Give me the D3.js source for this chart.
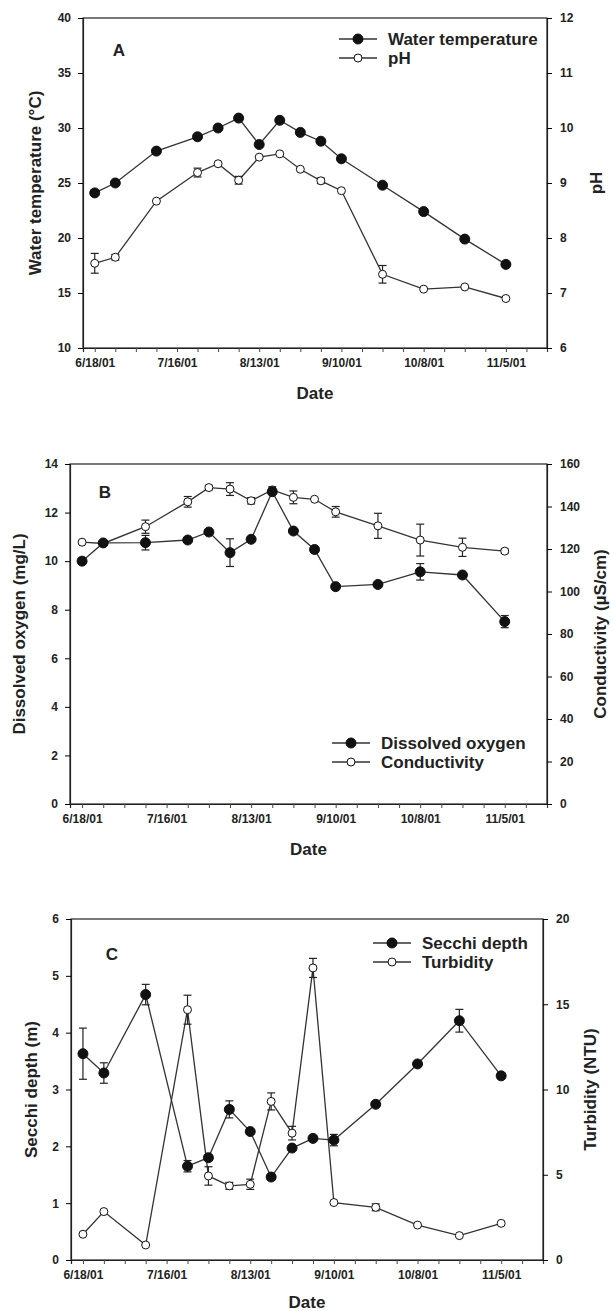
<!DOCTYPE html>
<html>
<head>
<meta charset="utf-8">
<script src="https://cdn.jsdelivr.net/npm/d3@7"></script>
<style>
  body { margin: 0; background: #fff; }
  svg { display: block; font-family: "Liberation Sans", Arial, sans-serif; }
  .tick text { font-size: 12px; font-weight: bold; fill: #222; }
</style>
</head>
<body>
<svg id="chart" width="611" height="1311"></svg>
<script>
// sampling dates (same for all three panels)
const sampleDates = ["2001-06-18","2001-06-25","2001-07-09","2001-07-23","2001-07-30",
  "2001-08-06","2001-08-13","2001-08-20","2001-08-27","2001-09-03","2001-09-10",
  "2001-09-24","2001-10-08","2001-10-22","2001-11-05"];

const dateTickLabels = ["6/18/01","7/16/01","8/13/01","9/10/01","10/8/01","11/5/01"];

// panel A
const waterTemp = [24.1, 25.0, 27.9, 29.2, 30.0, 30.9, 28.5, 30.7, 29.6, 28.8, 27.2, 24.8, 22.4, 19.9, 17.6];
const waterTempErr = [0, 0, 0, 0, 0, 0, 0, 0, 0, 0, 0, 0, 0, 0, 0];
const pH = [7.54, 7.65, 8.67, 9.19, 9.35, 9.05, 9.47, 9.53, 9.25, 9.04, 8.86, 7.34, 7.07, 7.11, 6.90];
const pHErr = [0.18, 0.05, 0, 0.08, 0, 0.07, 0, 0, 0, 0.05, 0, 0.16, 0, 0, 0];

// panel B
const dissolvedOxygen = [10.0, 10.75, 10.76, 10.87, 11.2, 10.35, 10.9, 12.86, 11.24, 10.48, 8.95, 9.04, 9.56, 9.43, 7.51];
const dissolvedOxygenErr = [0, 0, 0.3, 0, 0, 0.57, 0, 0, 0, 0, 0, 0, 0.34, 0, 0.25];
const conductivity = [123.2, 122.6, 130.5, 142.2, 148.9, 148.2, 142.7, 147.8, 144.3, 143.4, 137.5, 130.9, 124.2, 120.8, 119.0];
const conductivityErr = [0, 1, 3.1, 2.5, 1, 3, 1.5, 1.5, 3, 0, 2.5, 5.9, 7.5, 4.3, 1];

// panel C
const secchiDepth = [3.63, 3.29, 4.67, 1.65, 1.80, 2.65, 2.26, 1.46, 1.97, 2.14, 2.11, 2.74, 3.45, 4.21, 3.24];
const secchiDepthErr = [0.45, 0.18, 0.18, 0.1, 0.05, 0.15, 0, 0.05, 0, 0, 0.1, 0, 0, 0.2, 0.05];
const turbidity = [1.51, 2.84, 0.88, 14.68, 4.93, 4.35, 4.44, 9.3, 7.44, 17.13, 3.37, 3.09, 2.05, 1.43, 2.15];
const turbidityErr = [0, 0, 0, 0.85, 0.54, 0.2, 0.3, 0.5, 0.4, 0.56, 0, 0.2, 0, 0, 0];

const parseDate = d3.utcParse("%Y-%m-%d");
const dates = sampleDates.map(parseDate);
const xDomain = [parseDate("2001-06-14"), parseDate("2001-11-19")];
const weeklyTicks = d3.utcMonday.range(parseDate("2001-06-18"), d3.utcDay.offset(xDomain[1], 1));

const svg = d3.select("#chart");
const lineColor = "#333";
const intFmt = d3.format("d");

function drawPanel(p) {
  const g = svg.append("g");
  const x = d3.scaleUtc().domain(xDomain).range([p.left, p.right]);
  const yL = d3.scaleLinear().domain(p.leftDomain).range([p.bottom, p.top]);
  const yR = d3.scaleLinear().domain(p.rightDomain).range([p.bottom, p.top]);

  // box
  g.append("rect")
    .attr("x", p.left).attr("y", p.top)
    .attr("width", p.right - p.left).attr("height", p.bottom - p.top)
    .attr("fill", "none").attr("stroke", "#222").attr("stroke-width", 1.2);

  const xAxis = d3.axisBottom(x)
    .tickValues(weeklyTicks)
    .tickSizeOuter(0).tickSize(4).tickPadding(6)
    .tickFormat((d, i) => i % 4 === 0 ? dateTickLabels[i / 4] : "");
  g.append("g").attr("transform", `translate(0,${p.bottom})`).call(xAxis)
    .call(a => a.select(".domain").attr("stroke", "#222").attr("stroke-width", 1.2))
    .call(a => a.selectAll(".tick line").attr("stroke", "#444"));

  g.append("g").attr("transform", `translate(${p.left},0)`)
    .call(d3.axisLeft(yL).tickValues(p.leftTicks).tickFormat(intFmt)
      .tickSizeOuter(0).tickSize(5).tickPadding(7))
    .call(a => a.select(".domain").attr("stroke", "#222").attr("stroke-width", 1.2));

  g.append("g").attr("transform", `translate(${p.right},0)`)
    .call(d3.axisRight(yR).tickValues(p.rightTicks).tickFormat(intFmt)
      .tickSizeOuter(0).tickSize(5).tickPadding(8))
    .call(a => a.select(".domain").attr("stroke", "#222").attr("stroke-width", 1.2));

  // axis titles
  g.append("text")
    .attr("x", (p.left + p.right) / 2).attr("y", p.dateY)
    .attr("text-anchor", "middle").attr("dy", "0.35em")
    .style("font-size", "17px").style("font-weight", "bold").attr("fill", "#222")
    .text("Date");

  g.append("text")
    .attr("transform", `translate(${p.leftTitleX},${(p.top + p.bottom) / 2}) rotate(-90)`)
    .attr("text-anchor", "middle").attr("dy", "0.35em")
    .style("font-size", "17px").style("font-weight", "bold").attr("fill", "#222")
    .text(p.leftTitle);

  g.append("text")
    .attr("transform", `translate(${p.rightTitleX},${(p.top + p.bottom) / 2}) rotate(-90)`)
    .attr("text-anchor", "middle").attr("dy", "0.35em")
    .style("font-size", "17px").style("font-weight", "bold").attr("fill", "#222")
    .text(p.rightTitle);

  // panel letter
  g.append("text")
    .attr("x", p.letterPos[0]).attr("y", p.letterPos[1]).attr("dy", "0.35em")
    .attr("text-anchor", "middle")
    .style("font-size", "17px").style("font-weight", "bold").attr("fill", "#222")
    .text(p.letter);

  // series: open one on the right axis, filled one on the left axis
  const series = [
    { values: p.rightValues, err: p.rightErr, y: yR, filled: false },
    { values: p.leftValues, err: p.leftErr, y: yL, filled: true }
  ];

  for (const s of series) {
    const pts = dates.map((d, i) => ({ d, v: s.values[i], e: s.err[i] }));
    g.append("path")
      .datum(pts)
      .attr("fill", "none").attr("stroke", lineColor).attr("stroke-width", 1.3)
      .attr("d", d3.line().x(d => x(d.d)).y(d => s.y(d.v)));

    const eb = g.append("g").selectAll("g").data(pts.filter(d => d.e > 0)).join("g")
      .attr("stroke", "#222").attr("stroke-width", 1.2);
    eb.append("line")
      .attr("x1", d => x(d.d)).attr("x2", d => x(d.d))
      .attr("y1", d => s.y(d.v - d.e)).attr("y2", d => s.y(d.v + d.e));
    eb.append("line")
      .attr("x1", d => x(d.d) - 4).attr("x2", d => x(d.d) + 4)
      .attr("y1", d => s.y(d.v - d.e)).attr("y2", d => s.y(d.v - d.e));
    eb.append("line")
      .attr("x1", d => x(d.d) - 4).attr("x2", d => x(d.d) + 4)
      .attr("y1", d => s.y(d.v + d.e)).attr("y2", d => s.y(d.v + d.e));

    g.append("g").selectAll("circle").data(pts).join("circle")
      .attr("cx", d => x(d.d)).attr("cy", d => s.y(d.v))
      .attr("r", s.filled ? 5 : 4)
      .attr("fill", s.filled ? "#111" : "#fff")
      .attr("stroke", "#111").attr("stroke-width", 1);
  }

  // legend
  const lg = g.append("g");
  p.legend.forEach((item, i) => {
    const ly = p.legendPos[1] + i * 19;
    const lx = p.legendPos[0];
    lg.append("line").attr("x1", lx).attr("x2", lx + 38).attr("y1", ly).attr("y2", ly)
      .attr("stroke", lineColor).attr("stroke-width", 1.3);
    lg.append("circle").attr("cx", lx + 19).attr("cy", ly)
      .attr("r", item.filled ? 5 : 4)
      .attr("fill", item.filled ? "#111" : "#fff").attr("stroke", "#111");
    lg.append("text").attr("x", lx + 49).attr("y", ly).attr("dy", "0.35em")
      .style("font-size", "17px").style("font-weight", "bold").attr("fill", "#222")
      .text(item.label);
  });
}

drawPanel({
  left: 83, right: 547, top: 18, bottom: 348,
  leftDomain: [10, 40], leftTicks: d3.range(10, 41, 5),
  rightDomain: [6, 12], rightTicks: d3.range(6, 13, 1),
  leftValues: waterTemp, leftErr: waterTempErr,
  rightValues: pH, rightErr: pHErr,
  leftTitle: "Water temperature (\u00B0C)", leftTitleX: 35,
  rightTitle: "pH", rightTitleX: 596,
  dateY: 393, letter: "A", letterPos: [119, 50],
  legendPos: [339, 39],
  legend: [{ label: "Water temperature", filled: true }, { label: "pH", filled: false }]
});

drawPanel({
  left: 70, right: 547, top: 464, bottom: 804,
  leftDomain: [0, 14], leftTicks: d3.range(0, 15, 2),
  rightDomain: [0, 160], rightTicks: d3.range(0, 161, 20),
  leftValues: dissolvedOxygen, leftErr: dissolvedOxygenErr,
  rightValues: conductivity, rightErr: conductivityErr,
  leftTitle: "Dissolved oxygen (mg/L)", leftTitleX: 19,
  rightTitle: "Conductivity (\u00B5S/cm)", rightTitleX: 600,
  dateY: 849, letter: "B", letterPos: [105, 492],
  legendPos: [332, 743],
  legend: [{ label: "Dissolved oxygen", filled: true }, { label: "Conductivity", filled: false }]
});

drawPanel({
  left: 71, right: 543, top: 919, bottom: 1260,
  leftDomain: [0, 6], leftTicks: d3.range(0, 7, 1),
  rightDomain: [0, 20], rightTicks: d3.range(0, 21, 5),
  leftValues: secchiDepth, leftErr: secchiDepthErr,
  rightValues: turbidity, rightErr: turbidityErr,
  leftTitle: "Secchi depth (m)", leftTitleX: 31,
  rightTitle: "Turbidity (NTU)", rightTitleX: 590,
  dateY: 1302, letter: "C", letterPos: [112, 954],
  legendPos: [373, 943],
  legend: [{ label: "Secchi depth", filled: true }, { label: "Turbidity", filled: false }]
});
</script>
</body>
</html>
